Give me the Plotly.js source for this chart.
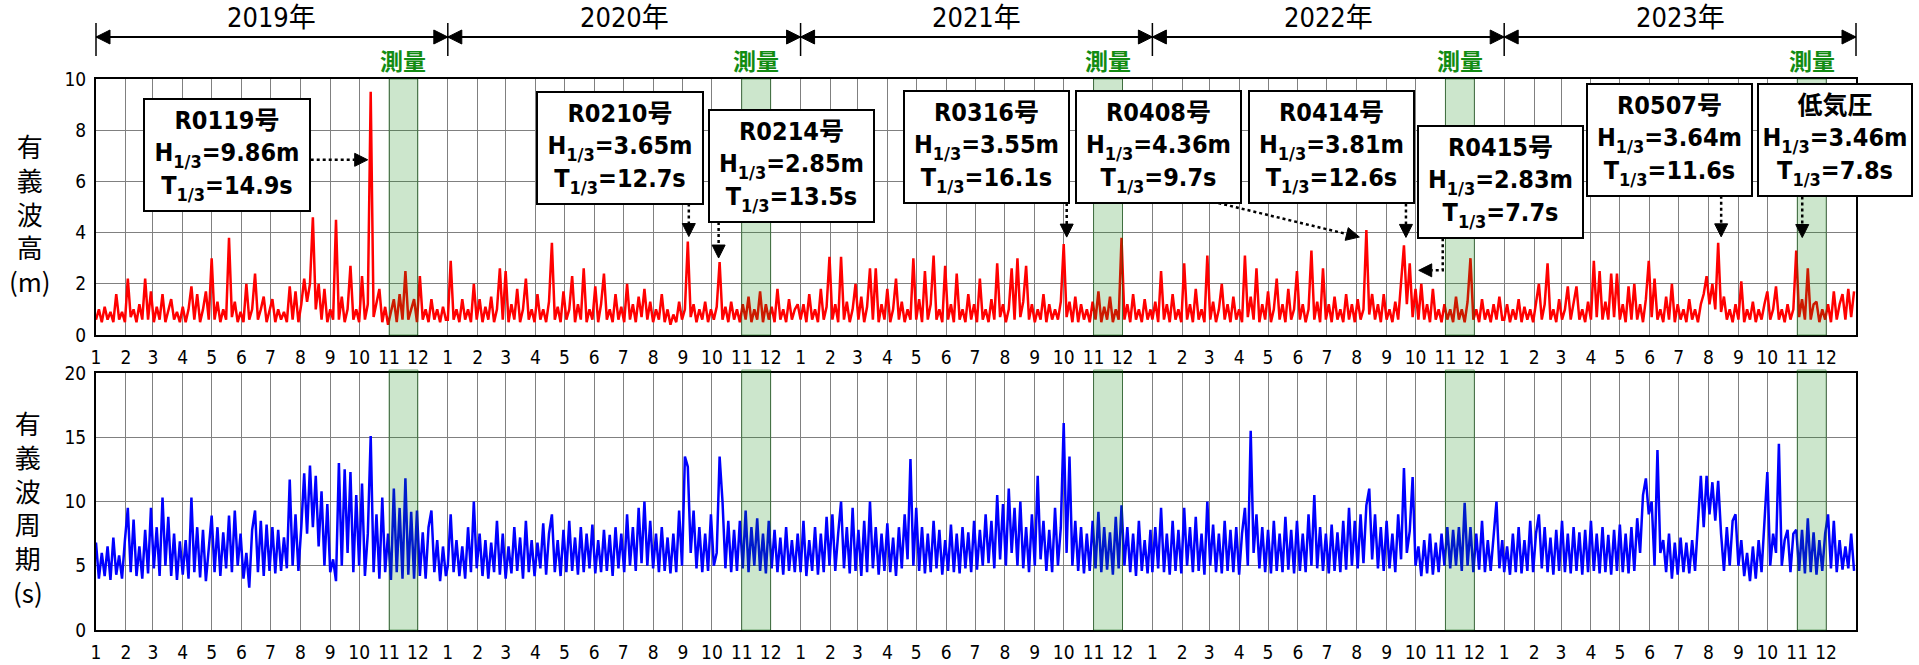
<!DOCTYPE html>
<html><head><meta charset="utf-8">
<script src="https://cdn.plot.ly/plotly-3.0.1.min.js"></script>
<style>html,body{margin:0;padding:0;background:#fff;}#chart{width:1919px;height:665px;}</style>
</head><body><div id="chart"></div>
<script>
// ---------------- DATA ----------------
const years = [2019, 2020, 2021, 2022, 2023];
const yearLabels = ['2019年', '2020年', '2021年', '2022年', '2023年'];
const monthLabels = ['1','2','3','4','5','6','7','8','9','10','11','12'];
const stepDays = 3; // one reading every 3 days from Jan 1 of each year

// significant wave height H1/3 (m)
const h2019 = [0.6,1.0,0.5,1.1,0.6,0.9,0.5,1.6,0.6,0.9, 0.5,2.2,0.7,1.0,0.5,1.2,0.6,2.2,0.6,1.7, 0.5,1.1,0.6,1.6,0.5,1.0,1.4,0.6,0.9,0.5, 1.1,0.5,1.0,1.9,0.6,1.6,0.5,1.0,1.7,0.6, 3.0,0.6,1.3,0.5,1.0,0.6,3.8,0.7,1.3,0.5, 0.9,0.5,2.0,0.6,1.0,2.4,0.6,1.0,1.5,0.5, 0.9,1.4,0.5,1.0,0.6,0.9,0.5,1.9,0.6,1.7, 0.5,1.2,2.2,1.3,2.0,4.6,1.0,2.0,0.6,1.8, 0.5,1.0,0.6,4.5,0.6,1.5,0.5,1.0,2.7,0.6, 1.0,0.5,2.3,0.6,1.2,9.5,0.7,1.3,1.8,0.5, 1.1,0.4,0.9,1.4,0.5,1.6,0.6,2.5,0.6,1.0, 1.4,0.5,2.3,0.6,1.0,0.5,1.4,0.6,1.0,0.5, 1.1,0.6];
const h2020 = [0.6,2.9,0.6,1.0,0.5,1.4,0.6,1.0,0.5,2.0, 0.6,1.4,0.5,1.1,0.6,1.5,0.5,1.0,2.6,0.6, 2.5,0.5,1.2,0.6,1.8,0.5,1.0,2.2,0.6,1.0, 0.5,1.6,0.6,1.0,0.5,1.3,3.6,0.6,1.1,0.5, 1.7,0.6,1.0,2.3,0.5,1.2,0.6,2.6,0.5,1.0, 0.6,1.9,0.5,1.2,2.4,0.6,1.0,0.5,1.6,0.6, 1.1,0.5,2.0,0.6,1.2,0.5,1.5,0.7,1.8,0.6, 1.3,0.5,1.0,0.6,1.6,0.5,1.0,0.4,0.8,0.5, 1.3,0.6,1.0,3.65,0.7,1.2,0.5,1.0,0.6,1.3, 0.5,1.0,0.6,1.1,2.85,0.6,1.1,0.5,1.3,0.6, 1.0,0.5,1.2,0.6,1.5,0.5,1.0,0.6,1.7,0.5, 1.2,0.6,1.1,0.5,1.8,0.6,1.0,0.5,1.4,0.6, 1.0,1.2];
const h2021 = [0.6,1.2,0.5,1.6,0.6,1.0,0.5,1.8,0.6,1.1, 3.05,0.6,1.2,0.5,3.05,0.6,1.3,0.5,1.0,2.0, 0.6,1.5,0.5,1.1,2.6,0.6,2.6,0.5,1.2,0.6, 1.8,0.5,1.0,2.2,0.6,1.3,0.5,1.0,0.6,3.0, 0.6,1.4,0.5,2.5,0.6,1.2,3.1,0.6,1.0,0.5, 2.7,0.6,1.2,0.5,2.4,0.6,1.0,0.5,1.6,0.6, 1.2,0.5,2.2,0.6,1.0,0.5,1.4,0.6,2.8,0.7, 1.2,0.5,1.0,2.6,0.6,3.0,0.7,1.3,2.7,0.6, 1.2,0.5,1.0,0.6,1.6,0.5,1.2,0.6,1.0,0.6, 1.3,3.55,0.7,1.3,0.5,1.5,0.5,1.2,0.6,1.0, 0.5,1.3,0.6,1.7,0.5,1.1,0.6,1.5,0.5,1.0, 0.6,3.8,0.6,1.2,0.5,1.6,0.6,1.0,0.5,1.4, 0.6,1.0];
const h2022 = [0.6,1.3,0.5,2.5,0.6,1.2,0.5,1.6,0.6,1.0, 0.5,2.8,0.6,1.2,0.5,1.8,0.6,1.0,0.5,3.1, 0.6,1.3,0.5,1.0,2.0,0.6,1.2,0.5,1.5,0.6, 1.0,0.5,3.1,0.7,1.5,0.6,2.6,0.5,1.2,0.6, 1.7,0.5,1.0,2.2,0.6,1.2,0.5,1.8,0.6,1.0, 2.5,0.6,1.2,0.5,1.0,3.3,0.6,1.3,0.5,2.6, 0.6,1.2,0.5,1.5,0.6,1.0,0.5,1.6,0.6,1.2, 0.5,1.4,0.6,1.0,4.1,0.8,1.6,0.6,1.2,0.5, 1.6,0.6,1.0,0.5,1.3,0.6,1.9,3.5,1.2,2.8, 0.7,1.8,0.6,2.0,0.6,1.2,0.5,1.8,0.6,1.0, 0.5,1.2,0.6,1.0,0.5,1.5,0.6,1.0,0.5,1.3, 3.0,0.6,1.0,0.5,1.4,0.6,1.0,0.5,1.2,0.6, 1.5,0.6];
const h2023 = [0.6,1.2,0.5,1.0,0.6,1.4,0.5,1.1,0.6,1.0, 0.5,1.3,2.0,0.6,1.2,2.8,0.6,1.0,0.5,1.4, 0.6,1.0,1.9,0.6,1.2,1.9,0.6,1.0,0.5,1.3, 0.6,2.9,0.7,2.5,0.6,1.3,0.6,2.4,0.7,2.4, 0.6,1.2,0.5,1.9,0.6,2.0,0.6,1.2,0.5,1.4, 2.9,0.7,2.2,0.6,1.0,0.5,1.5,0.6,2.0,0.5, 1.2,0.6,1.0,0.5,1.4,0.6,1.0,0.5,1.2,1.6, 2.3,1.2,2.0,1.0,3.6,0.9,1.5,0.6,1.0,0.5, 1.2,0.6,2.1,0.5,1.0,0.6,1.3,0.5,1.0,0.6, 1.2,1.7,0.6,1.0,1.9,0.6,1.0,0.5,1.2,0.6, 1.0,3.3,0.7,1.4,0.6,2.6,0.6,1.2,1.3,0.5, 1.0,0.6,1.2,0.5,1.7,0.6,1.2,1.6,0.6,1.8, 0.7,1.7];

// significant wave period T1/3 (s)
const t2019 = [6.8,4.0,6.0,4.2,6.5,3.9,7.2,4.3,5.8,4.0, 7.0,9.5,4.5,8.6,4.2,6.5,4.0,7.8,4.4,9.5, 4.8,8.0,4.2,10.3,5.0,8.8,4.2,7.5,3.9,6.9, 4.3,7.0,4.0,10.3,4.5,8.0,4.1,7.8,3.8,6.5, 8.9,4.5,8.0,4.2,7.6,4.8,8.9,4.5,9.3,5.0, 7.5,4.0,6.0,3.3,7.8,9.3,4.5,8.5,4.2,8.2, 4.6,8.0,4.4,7.8,4.6,7.2,4.8,11.7,5.0,9.0, 4.6,8.0,12.2,7.5,12.8,8.0,12.0,6.5,10.8,5.0, 9.8,4.5,5.5,3.8,13.0,5.0,12.5,6.0,12.3,4.5, 10.5,5.0,11.4,4.2,7.5,15.1,4.5,9.0,4.0,10.3, 4.5,7.5,3.9,11.0,4.5,9.5,4.0,11.8,4.3,9.2, 4.0,9.3,4.2,7.6,4.0,8.0,9.3,4.5,7.0,3.8, 6.5,4.2];
const t2020 = [5.0,9.0,4.5,7.0,4.2,6.5,4.0,8.0,4.5,10.0, 4.8,7.5,4.2,7.0,4.0,6.8,4.5,8.5,4.3,7.5, 4.0,6.5,4.4,8.0,4.6,7.2,4.0,8.5,4.5,7.0, 4.2,6.8,4.8,8.3,4.3,7.5,9.0,4.5,7.0,4.2, 7.8,4.5,8.5,4.6,7.2,4.3,8.0,4.5,7.5,4.8, 8.2,4.4,7.0,4.5,7.8,4.6,7.4,4.2,8.0,4.8, 7.5,4.5,9.0,5.0,8.0,4.6,9.5,5.2,10.0,5.0, 8.5,4.8,7.5,4.5,8.0,4.6,7.2,4.4,7.5,4.5, 9.3,5.0,13.5,12.7,6.0,9.3,4.8,8.0,4.5,7.5, 4.6,9.0,5.0,6.0,13.5,10.0,4.8,8.5,4.5,7.8, 4.6,8.5,4.8,9.3,4.5,8.0,5.0,8.7,4.6,7.5, 4.4,8.5,4.8,7.8,4.5,7.2,4.3,8.0,4.6,7.0, 4.5,7.5];
const t2021 = [4.5,8.5,4.2,7.0,4.6,8.0,4.3,7.5,4.5,8.8, 5.0,9.0,4.6,7.5,10.0,4.8,8.0,4.4,9.5,4.6, 7.8,4.2,8.5,4.5,10.0,4.8,8.0,4.3,7.5,4.6, 8.3,4.5,7.2,4.2,8.0,4.8,9.0,5.5,13.3,5.0, 9.5,4.6,8.0,4.4,7.5,4.5,8.5,4.8,7.8,4.3, 7.0,4.6,8.2,4.5,7.5,4.4,8.0,4.8,7.6,4.5, 8.5,4.7,7.8,5.0,9.0,5.2,8.5,4.8,10.5,5.5, 9.8,5.0,11.0,6.0,9.5,5.0,10.0,4.8,8.0,4.5, 9.0,5.0,12.0,5.5,8.5,4.6,7.8,4.5,9.5,5.0, 8.0,16.1,6.0,13.5,5.0,8.5,4.6,8.0,4.4,7.5, 4.6,8.5,4.8,9.2,4.5,8.0,4.7,7.6,4.3,8.8, 4.8,9.7,5.0,8.0,4.5,7.5,4.2,8.5,4.6,7.0, 4.4,7.8];
const t2022 = [4.5,8.0,4.8,9.5,4.5,7.5,4.3,8.5,4.6,7.8, 4.4,9.5,5.0,8.0,4.5,8.8,4.6,7.5,4.3,10.0, 5.0,8.2,4.5,7.5,4.4,8.5,4.6,7.8,4.5,8.0, 4.3,7.5,9.5,5.0,15.5,6.0,9.0,4.8,8.0,4.5, 7.8,4.4,8.5,4.6,7.5,4.5,8.8,4.7,7.8,4.4, 8.5,4.6,7.5,4.5,9.0,5.0,10.5,4.8,8.0,4.6, 7.5,4.4,8.2,4.6,7.6,4.5,8.5,4.7,9.5,5.0, 8.5,4.8,9.0,5.2,9.7,11.0,5.5,9.0,4.8,8.0, 4.6,8.5,4.8,7.5,4.5,9.0,5.5,12.6,6.0,7.7, 11.9,5.0,6.5,4.2,7.0,4.4,7.5,4.3,6.8,4.5, 7.5,5.0,8.0,4.8,7.8,5.0,8.0,4.6,9.9,5.0, 8.0,4.5,7.5,4.7,8.5,4.5,7.0,4.6,7.5,10.0, 4.8,7.0];
const t2023 = [4.5,6.5,4.3,7.5,4.5,8.0,4.4,7.0,4.6,8.5, 4.5,7.5,9.0,4.8,8.0,4.5,7.2,4.3,7.8,4.6, 8.5,4.5,7.5,4.4,8.0,4.6,7.6,4.3,7.8,4.5, 8.5,4.6,7.5,4.4,8.0,4.5,7.4,4.3,7.8,4.6, 8.2,4.5,7.5,4.4,8.0,4.6,8.7,6.0,10.5,11.8, 9.0,10.0,5.0,14.0,6.0,7.0,4.5,7.5,4.0,6.8, 4.3,7.2,4.5,6.8,4.4,7.0,4.6,8.5,12.0,8.0, 12.0,9.0,11.5,8.5,11.6,7.5,4.6,8.0,5.0,8.5, 9.0,5.0,7.0,4.2,6.0,3.8,6.5,4.0,7.0,4.5, 8.0,12.3,5.0,7.5,6.0,14.5,5.0,7.0,7.8,4.5, 7.5,7.8,4.6,7.8,4.4,8.7,4.5,7.6,4.3,7.0, 4.6,7.5,9.0,4.8,8.5,4.5,7.0,4.7,6.5,4.8, 7.5,4.6];

// storm events
const eventNames = ['R0119号', 'R0210号', 'R0214号', 'R0316号', 'R0408号', 'R0414号', 'R0415号', 'R0507号', '低気圧'];
const eventDates = ['2019-10-13', '2020-09-06', '2020-10-09', '2021-10-01', '2022-08-11', '2022-09-19', '2022-09-25', '2023-08-11', '2023-10-31'];
const eventH = [9.86, 3.65, 2.85, 3.55, 4.36, 3.81, 2.83, 3.64, 3.46];
const eventT = [14.9, 12.7, 13.5, 16.1, 9.7, 12.6, 7.7, 11.6, 7.8];

// survey periods
const surveyStarts = ['2019-11-01', '2020-11-01', '2021-11-01', '2022-11-01', '2023-11-01'];
const surveyEnds   = ['2019-12-01', '2020-12-01', '2021-12-01', '2022-12-01', '2023-12-01'];
const surveyLabel = '測量';

// ---------------- LAYOUT / STYLE ----------------
const W = 1919, H = 665;
const PL = 96, PR = 1856, PT = 79, PB = 630;
const X_START = '2019-01-01', X_END = '2024-01-01';
const NUM_FONT = '"Liberation Sans Narrow", "DejaVu Sans Condensed", "Noto Sans CJK JP", sans-serif';
const JP_FONT = '"Noto Sans CJK JP", sans-serif';
const BOX_FONT_SIZE = 25, SUB_FONT_SIZE = 18, SUB_SHIFT = 7;
// box placement in pixels: [left, top, width, height]
const boxPx = [[143,98,168,114],[536,91,168,114],[708,109,167,114],[903,90,167,114],[1075,90,167,114],[1248,90,167,114],[1417,125,167,114],[1586,83,167,114],[1757,83,156,114]];
// arrow geometry: pixel offsets from the peak point (x right, y up); last point is the tip
const arrowGeom = [
  [[-60,-68],[-3,-68]],
  [[1,38],[1,5]],
  [[-1,40],[-1,4]],
  [[3,41],[3,7]],
  [[-148,27],[-7,-7]],
  [[2,42],[2,8]],
  [[33,25],[33,-7],[9,-7]],
  [[3,47],[3,6]],
  [[6,54],[6,13]]
];

function iso(d){ return d.toISOString().slice(0,10); }
function fx(px){ return (px - PL) / (PR - PL); }
function fy(py){ return (PB - py) / (PB - PT); }
const t0 = Date.parse(X_START), t1 = Date.parse(X_END);
function fdate(s){ return (Date.parse(s) - t0) / (t1 - t0); }

// ---------------- BUILD SERIES ----------------
const hSeries = [h2019, h2020, h2021, h2022, h2023];
const tSeries = [t2019, t2020, t2021, t2022, t2023];
const xH = [], yH = [], xT = [], yT = [];
years.forEach((yr, k) => {
  hSeries[k].forEach((v, j) => { xH.push(iso(new Date(Date.UTC(yr, 0, 1 + stepDays * j)))); yH.push(v); });
  tSeries[k].forEach((v, j) => { xT.push(iso(new Date(Date.UTC(yr, 0, 1 + stepDays * j)))); yT.push(v); });
});

const tickVals = [], tickText = [];
years.forEach(yr => monthLabels.forEach((m, i) => { tickVals.push(iso(new Date(Date.UTC(yr, i, 1)))); tickText.push(m); }));

const traces = [
  {x: xH, y: yH, type: 'scatter', mode: 'lines', line: {color: '#ff0000', width: 2.5}, xaxis: 'x', yaxis: 'y', hoverinfo: 'skip'},
  {x: xT, y: yT, type: 'scatter', mode: 'lines', line: {color: '#0000ff', width: 2.5}, xaxis: 'x2', yaxis: 'y2', hoverinfo: 'skip'}
];

const gridCol = '#808080';
function xAxis(anchor){
  return {type: 'date', range: [X_START, X_END], anchor: anchor, tickmode: 'array', tickvals: tickVals, ticktext: tickText,
    showgrid: true, gridcolor: gridCol, gridwidth: 1, showline: true, linecolor: 'black', linewidth: 2, mirror: true,
    ticks: 'outside', ticklen: 4, tickcolor: 'rgba(0,0,0,0)', tickfont: {family: NUM_FONT, size: 19, color: '#000'}, zeroline: false, fixedrange: true};
}
function yAxis(anchor, domain, max, dt){
  return {range: [0, max], dtick: dt, tick0: 0, anchor: anchor, domain: domain, showgrid: true, gridcolor: gridCol, gridwidth: 1,
    showline: true, linecolor: 'black', linewidth: 2, mirror: true, zeroline: false, ticks: 'outside', ticklen: 4, tickcolor: 'rgba(0,0,0,0)',
    tickfont: {family: NUM_FONT, size: 19, color: '#000'}, fixedrange: true};
}

const shapes = [], annotations = [];

// survey bands
surveyStarts.forEach((s, i) => {
  const common = {type: 'rect', x0: s, x1: surveyEnds[i], fillcolor: 'rgba(0,128,0,0.2)', line: {color: 'rgba(0,90,0,0.45)', width: 1}, layer: 'above'};
  shapes.push(Object.assign({xref: 'x', yref: 'y domain', y0: 0, y1: 1}, common));
  shapes.push(Object.assign({xref: 'x2', yref: 'y2 domain', y0: 0, y1: 1.012}, common));
  const mid = iso(new Date((Date.parse(s) + Date.parse(surveyEnds[i])) / 2));
  annotations.push({xref: 'x', yref: 'paper', x: mid, y: fy(60), text: '<b>' + surveyLabel + '</b>', showarrow: false,
    font: {family: JP_FONT, size: 23, color: '#128c12'}, xanchor: 'center', yanchor: 'middle'});
});

// year arrows
const yArrow = fy(37), HL = 14, HW = 7;
shapes.push({type: 'line', xref: 'paper', yref: 'paper', x0: 0, x1: 1, y0: yArrow, y1: yArrow, line: {color: 'black', width: 2}});
const bounds = years.map(y => y + '-01-01').concat([X_END]);
bounds.forEach((b, i) => {
  const f = fdate(b);
  shapes.push({type: 'line', xref: 'paper', yref: 'paper', x0: f, x1: f, y0: fy(56), y1: fy(23), line: {color: 'black', width: 1.5}});
  const tri = {type: 'path', xref: 'paper', yref: 'paper', xsizemode: 'pixel', ysizemode: 'pixel', xanchor: f, yanchor: yArrow, fillcolor: 'black', line: {color: 'black', width: 1}};
  if (i > 0) shapes.push(Object.assign({path: `M 0,0 L ${-HL},${HW} L ${-HL},${-HW} Z`}, tri));
  if (i < bounds.length - 1) {
    shapes.push(Object.assign({path: `M 0,0 L ${HL},${HW} L ${HL},${-HW} Z`}, tri));
    const mid = (f + fdate(bounds[i + 1])) / 2;
    annotations.push({xref: 'paper', yref: 'paper', x: mid, y: fy(18), text: yearLabels[i], showarrow: false,
      font: {family: NUM_FONT, size: 27, color: '#000'}, xanchor: 'center', yanchor: 'middle'});
  }
});

// event boxes + dotted arrows
const AHL = 13, AHW = 6.5;
const sub = s => `<span style="font-size:${SUB_FONT_SIZE}px;baseline-shift:-${SUB_SHIFT}px">${s}</span>`;
eventNames.forEach((nm, i) => {
  const b = boxPx[i], pad = 3, bw = 2;
  const txt = '<b>' + nm + '</b><br><b>H' + sub('1/3') + '=' + eventH[i].toFixed(2) + 'm</b><br><b>T' + sub('1/3') + '=' + eventT[i].toFixed(1) + 's</b>';
  annotations.push({xref: 'paper', yref: 'paper', x: fx(b[0]), y: fy(b[1]), xanchor: 'left', yanchor: 'top', text: txt, showarrow: false,
    bgcolor: 'white', bordercolor: 'black', borderwidth: bw, borderpad: pad, width: b[2] - 2 * (pad + bw), height: b[3] - 2 * (pad + bw),
    align: 'center', valign: 'middle', font: {family: NUM_FONT, size: BOX_FONT_SIZE, color: '#000'}});
  const idx = xH.indexOf(eventDates[i]);
  const peak = idx >= 0 ? yH[idx] : eventH[i];
  const pts = arrowGeom[i], n = pts.length, tip = pts[n - 1], prev = pts[n - 2];
  let ux = tip[0] - prev[0], uy = tip[1] - prev[1]; const L = Math.hypot(ux, uy); ux /= L; uy /= L;
  const bx = tip[0] - AHL * ux, by = tip[1] - AHL * uy, nx = -uy, ny = ux;
  const linePts = pts.slice(0, n - 1).concat([[bx, by]]);
  const linePath = linePts.map((p, k) => (k ? 'L ' : 'M ') + p[0].toFixed(1) + ',' + p[1].toFixed(1)).join(' ');
  const base = {type: 'path', xref: 'x', yref: 'y', xsizemode: 'pixel', ysizemode: 'pixel', xanchor: eventDates[i], yanchor: peak, layer: 'above'};
  shapes.push(Object.assign({path: linePath, line: {color: 'black', width: 2.5, dash: 'dot'}, fillcolor: 'rgba(0,0,0,0)'}, base));
  shapes.push(Object.assign({path: `M ${tip[0]},${tip[1]} L ${(bx + AHW * nx).toFixed(1)},${(by + AHW * ny).toFixed(1)} L ${(bx - AHW * nx).toFixed(1)},${(by - AHW * ny).toFixed(1)} Z`,
    line: {color: 'black', width: 1}, fillcolor: 'black'}, base));
});

// vertical y-axis titles
const domTop = [fy(335), 1], domBot = [0, fy(373)];
annotations.push({xref: 'paper', yref: 'paper', x: fx(30), y: (domTop[0] + domTop[1]) / 2 - 0.01, text: '有<br>義<br>波<br>高<br>(m)', showarrow: false,
  font: {family: JP_FONT, size: 26, color: '#000'}, xanchor: 'center', yanchor: 'middle'});
annotations.push({xref: 'paper', yref: 'paper', x: fx(28), y: (domBot[0] + domBot[1]) / 2 - 0.01, text: '有<br>義<br>波<br>周<br>期<br>(s)', showarrow: false,
  font: {family: JP_FONT, size: 26, color: '#000'}, xanchor: 'center', yanchor: 'middle'});

const layout = {
  width: W, height: H, margin: {l: PL, r: W - PR, t: PT, b: H - PB, pad: 0},
  paper_bgcolor: 'white', plot_bgcolor: 'white', showlegend: false,
  font: {family: JP_FONT, color: '#000'},
  xaxis: xAxis('y'), yaxis: yAxis('x', domTop, 10, 2),
  xaxis2: xAxis('y2'), yaxis2: yAxis('x2', domBot, 20, 5),
  shapes: shapes, annotations: annotations
};

Plotly.newPlot('chart', traces, layout, {staticPlot: true, displayModeBar: false});
</script></body></html>
